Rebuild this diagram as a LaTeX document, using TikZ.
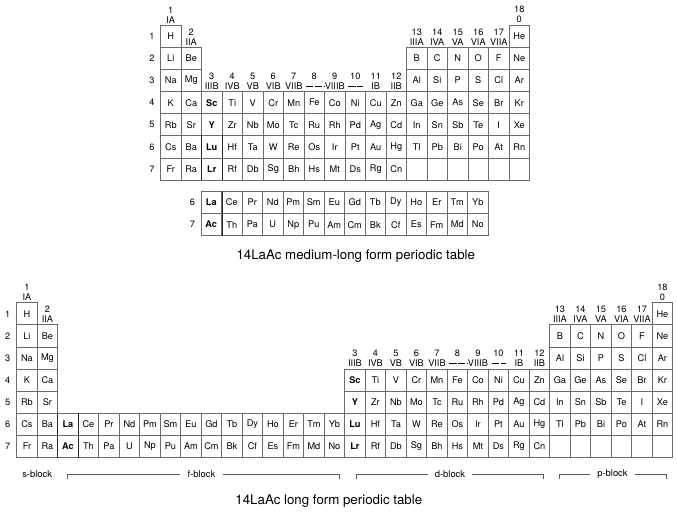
\documentclass[tikz,border=0pt]{standalone}
\usepackage{fontspec}
\setmainfont{TeX Gyre Heros}
\begin{document}
\begin{tikzpicture}[x=1pt,y=-1pt,
  el/.style={draw=black!58, line width=0.8pt, minimum width=20.5pt, minimum height=22.1pt,
    inner sep=0pt, font=\fontsize{9.2}{10}\selectfont},
  lbl/.style={inner sep=0pt, font=\fontsize{9.2}{10}\selectfont},
  captxt/.style={inner sep=0pt, font=\fontsize{13.3}{15}\selectfont},
  blk/.style={inner sep=0pt, inner xsep=7pt, font=\fontsize{9.4}{10}\selectfont},
  brk/.style={line width=0.8pt, draw=black!65},
  vdash/.style={line width=0.7pt, dash pattern=on 7.3pt off 1.6pt}]
\useasboundingbox (0,0) rectangle (677,515);
% ================= medium-long form =================
\def\tx{160.5}\def\ty{25.3}\def\w{20.5}\def\h{22.1}
% period labels
\foreach \r in {1,...,7}
  \node[lbl] (tp\r) at ({\tx-8.5},{\ty+(\r-0.5)*\h}) {\r};
% row 1
\node[el] (t1-1) at ({\tx+0.5*\w},{\ty+0.5*\h}) {H};
\node[el] (t1-18) at ({\tx+17.5*\w},{\ty+0.5*\h}) {He};
% rows 2,3
\foreach \s [count=\c] in {Li,Be}
  \node[el] (t2-\c) at ({\tx+(\c-0.5)*\w},{\ty+1.5*\h}) {\s};
\foreach \s [count=\i] in {B,C,N,O,F,Ne}
  \node[el] (t2-p\i) at ({\tx+(\i+11.5)*\w},{\ty+1.5*\h}) {\s};
\foreach \s [count=\c] in {Na,Mg}
  \node[el] (t3-\c) at ({\tx+(\c-0.5)*\w},{\ty+2.5*\h}) {\s};
\foreach \s [count=\i] in {Al,Si,P,S,Cl,Ar}
  \node[el] (t3-p\i) at ({\tx+(\i+11.5)*\w},{\ty+2.5*\h}) {\s};
% rows 4-7
\foreach \s [count=\c] in {K,Ca,\textbf{Sc},Ti,V,Cr,Mn,Fe,Co,Ni,Cu,Zn,Ga,Ge,As,Se,Br,Kr}
  \node[el] (t4-\c) at ({\tx+(\c-0.5)*\w},{\ty+3.5*\h}) {\s};
\foreach \s [count=\c] in {Rb,Sr,\textbf{Y},Zr,Nb,Mo,Tc,Ru,Rh,Pd,Ag,Cd,In,Sn,Sb,Te,I,Xe}
  \node[el] (t5-\c) at ({\tx+(\c-0.5)*\w},{\ty+4.5*\h}) {\s};
\foreach \s [count=\c] in {Cs,Ba,\textbf{Lu},Hf,Ta,W,Re,Os,Ir,Pt,Au,Hg,Tl,Pb,Bi,Po,At,Rn}
  \node[el] (t6-\c) at ({\tx+(\c-0.5)*\w},{\ty+5.5*\h}) {\s};
\foreach \s [count=\c] in {Fr,Ra,\textbf{Lr},Rf,Db,Sg,Bh,Hs,Mt,Ds,Rg,Cn}
  \node[el] (t7-\c) at ({\tx+(\c-0.5)*\w},{\ty+6.5*\h}) {\s};
\foreach \c in {13,...,18}
  \node[el] (t7-\c) at ({\tx+(\c-0.5)*\w},{\ty+6.5*\h}) {};
% darker block edges
\draw[line width=0.8pt, black!85] (t6-3.north west) -- (t7-3.south west);
\draw[line width=0.8pt, black!85] (t6-3.north east) -- (t7-3.south east);
% group labels
\node[lbl] (tg1n) at ({\tx+0.5*\w},{\ty-15.5}) {1};
\node[lbl] (tg1r) at ({\tx+0.5*\w},{\ty-5.5}) {IA};
\node[lbl] (tg2n) at ({\tx+1.5*\w},{\ty+\h-15.5}) {2};
\node[lbl] (tg2r) at ({\tx+1.5*\w},{\ty+\h-5.5}) {IIA};
\node[lbl] (tg18n) at ({\tx+17.5*\w},{\ty-15.5}) {18};
\node[lbl] (tg18r) at ({\tx+17.5*\w},{\ty-5.5}) {0};
\foreach \n/\ro in {13/IIIA,14/IVA,15/VA,16/VIA,17/VIIA}{
  \node[lbl] (tg\n n) at ({\tx+(\n-0.5)*\w},{\ty+\h-15.5}) {\n};
  \node[lbl] (tg\n r) at ({\tx+(\n-0.5)*\w},{\ty+\h-5.5}) {\ro};
}
\foreach \n/\ro in {3/IIIB,4/IVB,5/VB,6/VIB,7/VIIB,11/IB,12/IIB}{
  \node[lbl] (tg\n n) at ({\tx+(\n-0.5)*\w},{\ty+3*\h-15.5}) {\n};
  \node[lbl] (tg\n r) at ({\tx+(\n-0.5)*\w},{\ty+3*\h-5.5}) {\ro};
}
\foreach \n in {8,9,10}
  \node[lbl] (tg\n n) at ({\tx+(\n-0.5)*\w},{\ty+3*\h-15.5}) {\n};
\node[lbl] (tg9r) at ({\tx+8.5*\w},{\ty+3*\h-5.5}) {VIIIB};
\coordinate (td1) at ({\tx+7*\w+2},{\ty+3*\h-5.5});
\coordinate (td2) at ({\tx+10*\w-3},{\ty+3*\h-5.5});
\draw[vdash] (td1) -- ([xshift=-0.3pt]tg9r.west);
\draw[vdash] ([xshift=3.5pt]tg9r.east) -- (td2);
% f-block rows
\def\fx{201}\def\fy{191.5}
\node[lbl] (tfp6) at ({\fx-8.5},{\fy+0.5*\h}) {6};
\node[lbl] (tfp7) at ({\fx-8.5},{\fy+1.5*\h}) {7};
\foreach \s [count=\c] in {\textbf{La},Ce,Pr,Nd,Pm,Sm,Eu,Gd,Tb,Dy,Ho,Er,Tm,Yb}
  \node[el] (tf6-\c) at ({\fx+(\c-0.5)*\w},{\fy+0.5*\h}) {\s};
\foreach \s [count=\c] in {\textbf{Ac},Th,Pa,U,Np,Pu,Am,Cm,Bk,Cf,Es,Fm,Md,No}
  \node[el] (tf7-\c) at ({\fx+(\c-0.5)*\w},{\fy+1.5*\h}) {\s};
\draw[line width=0.8pt, black!85] (tf6-1.north east) -- (tf7-1.south east);
\node[captxt] (tcap) at (355.8,256) {14LaAc medium-long form periodic table};
% ================= long form =================
\def\bx{16.7}\def\by{302.7}
\foreach \r in {1,...,7}
  \node[lbl] (bp\r) at ({\bx-9},{\by+(\r-0.5)*\h}) {\r};
\node[el] (b1-1) at ({\bx+0.5*\w},{\by+0.5*\h}) {H};
\node[el] (b1-32) at ({\bx+31.5*\w},{\by+0.5*\h}) {He};
\foreach \r/\a/\b in {2/Li/Be,3/Na/Mg,4/K/Ca,5/Rb/Sr,6/Cs/Ba,7/Fr/Ra}{
  \node[el] (b\r-1) at ({\bx+0.5*\w},{\by+(\r-0.5)*\h}) {\a};
  \node[el] (b\r-2) at ({\bx+1.5*\w},{\by+(\r-0.5)*\h}) {\b};
}
% f-block
\foreach \s [count=\i] in {\textbf{La},Ce,Pr,Nd,Pm,Sm,Eu,Gd,Tb,Dy,Ho,Er,Tm,Yb}
  \node[el] (b6-f\i) at ({\bx+(\i+1.5)*\w},{\by+5.5*\h}) {\s};
\foreach \s [count=\i] in {\textbf{Ac},Th,Pa,U,Np,Pu,Am,Cm,Bk,Cf,Es,Fm,Md,No}
  \node[el] (b7-f\i) at ({\bx+(\i+1.5)*\w},{\by+6.5*\h}) {\s};
% d-block
\foreach \s [count=\i] in {\textbf{Sc},Ti,V,Cr,Mn,Fe,Co,Ni,Cu,Zn}
  \node[el] (b4-d\i) at ({\bx+(\i+15.5)*\w},{\by+3.5*\h}) {\s};
\foreach \s [count=\i] in {\textbf{Y},Zr,Nb,Mo,Tc,Ru,Rh,Pd,Ag,Cd}
  \node[el] (b5-d\i) at ({\bx+(\i+15.5)*\w},{\by+4.5*\h}) {\s};
\foreach \s [count=\i] in {\textbf{Lu},Hf,Ta,W,Re,Os,Ir,Pt,Au,Hg}
  \node[el] (b6-d\i) at ({\bx+(\i+15.5)*\w},{\by+5.5*\h}) {\s};
\foreach \s [count=\i] in {\textbf{Lr},Rf,Db,Sg,Bh,Hs,Mt,Ds,Rg,Cn}
  \node[el] (b7-d\i) at ({\bx+(\i+15.5)*\w},{\by+6.5*\h}) {\s};
% p-block
\foreach \s [count=\i] in {B,C,N,O,F,Ne}
  \node[el] (b2-p\i) at ({\bx+(\i+25.5)*\w},{\by+1.5*\h}) {\s};
\foreach \s [count=\i] in {Al,Si,P,S,Cl,Ar}
  \node[el] (b3-p\i) at ({\bx+(\i+25.5)*\w},{\by+2.5*\h}) {\s};
\foreach \s [count=\i] in {Ga,Ge,As,Se,Br,Kr}
  \node[el] (b4-p\i) at ({\bx+(\i+25.5)*\w},{\by+3.5*\h}) {\s};
\foreach \s [count=\i] in {In,Sn,Sb,Te,I,Xe}
  \node[el] (b5-p\i) at ({\bx+(\i+25.5)*\w},{\by+4.5*\h}) {\s};
\foreach \s [count=\i] in {Tl,Pb,Bi,Po,At,Rn}
  \node[el] (b6-p\i) at ({\bx+(\i+25.5)*\w},{\by+5.5*\h}) {\s};
\foreach \i in {1,...,6}
  \node[el] (b7-p\i) at ({\bx+(\i+25.5)*\w},{\by+6.5*\h}) {};
\draw[line width=0.8pt, black!85] (b6-f1.north west) -- (b7-f1.south west);
\draw[line width=0.8pt, black!85] (b6-f1.north east) -- (b7-f1.south east);
% group labels
\node[lbl] (bg1n) at ({\bx+0.5*\w},{\by-15.5}) {1};
\node[lbl] (bg1r) at ({\bx+0.5*\w},{\by-5.5}) {IA};
\node[lbl] (bg2n) at ({\bx+1.5*\w},{\by+\h-15.5}) {2};
\node[lbl] (bg2r) at ({\bx+1.5*\w},{\by+\h-5.5}) {IIA};
\node[lbl] (bg18n) at ({\bx+31.5*\w},{\by-15.5}) {18};
\node[lbl] (bg18r) at ({\bx+31.5*\w},{\by-5.5}) {0};
\foreach \n/\ro in {13/IIIA,14/IVA,15/VA,16/VIA,17/VIIA}{
  \node[lbl] (bg\n n) at ({\bx+(\n+13.5)*\w},{\by+\h-15.5}) {\n};
  \node[lbl] (bg\n r) at ({\bx+(\n+13.5)*\w},{\by+\h-5.5}) {\ro};
}
\foreach \n/\ro in {3/IIIB,4/IVB,5/VB,6/VIB,7/VIIB,11/IB,12/IIB}{
  \node[lbl] (bg\n n) at ({\bx+(\n+13.5)*\w},{\by+3*\h-15.5}) {\n};
  \node[lbl] (bg\n r) at ({\bx+(\n+13.5)*\w},{\by+3*\h-5.5}) {\ro};
}
\foreach \n in {8,9,10}
  \node[lbl] (bg\n n) at ({\bx+(\n+13.5)*\w},{\by+3*\h-15.5}) {\n};
\node[lbl] (bg9r) at ({\bx+22.5*\w},{\by+3*\h-5.5}) {VIIIB};
\coordinate (bd1) at ({\bx+21*\w+2},{\by+3*\h-5.5});
\coordinate (bd2) at ({\bx+24*\w-3},{\by+3*\h-5.5});
\draw[vdash] (bd1) -- ([xshift=-0.3pt]bg9r.west);
\draw[vdash] ([xshift=3.5pt]bg9r.east) -- (bd2);
% block labels
\def\ky{474}
\node[blk] (sblk) at ({\bx+\w},\ky) {s-block};
\node[blk] (fblk) at (201.5,\ky) {f-block};
\node[blk] (dblk) at (450,\ky) {d-block};
\node[blk] (pblk) at (612.5,\ky) {p-block};
\coordinate (f1) at (67.7,\ky); \coordinate (f2) at (339,\ky);
\coordinate (d1) at (356,\ky); \coordinate (d2) at (543.3,\ky);
\coordinate (p1) at (559,\ky); \coordinate (p2) at (666.7,\ky);
\draw[brk] ([yshift=-4.5pt]f1) -- (f1) -- (fblk.west);
\draw[brk] (fblk.east) -- (f2) -- ([yshift=-4.5pt]f2);
\draw[brk] ([yshift=-4.5pt]d1) -- (d1) -- (dblk.west);
\draw[brk] (dblk.east) -- (d2) -- ([yshift=-4.5pt]d2);
\draw[brk] ([yshift=-4.5pt]p1) -- (p1) -- (pblk.west);
\draw[brk] (pblk.east) -- (p2) -- ([yshift=-4.5pt]p2);
\node[captxt] (bcap) at (328.8,501) {14LaAc long form periodic table};
\end{tikzpicture}
\end{document}
